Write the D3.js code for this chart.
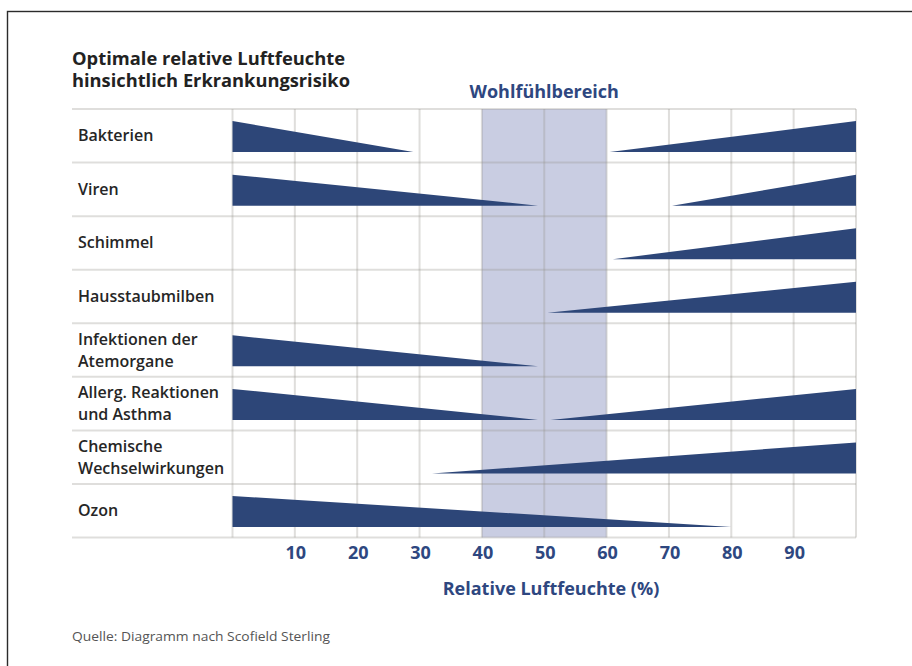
<!DOCTYPE html>
<html>
<head>
<meta charset="utf-8">
<script src="https://cdn.jsdelivr.net/npm/d3@7/dist/d3.min.js"></script>
<style>
  html, body { margin: 0; padding: 0; background: #fff; }
  svg { display: block; }
  text { font-family: "Open Sans", "Noto Sans", sans-serif; }
</style>
</head>
<body>
<svg id="chart" width="912" height="666"></svg>
<script>
// Row labels (multi-line labels are split on "|")
const categories = [
  "Bakterien",
  "Viren",
  "Schimmel",
  "Hausstaubmilben",
  "Infektionen der|Atemorgane",
  "Allerg. Reaktionen|und Asthma",
  "Chemische|Wechselwirkungen",
  "Ozon"
];

// Dryness risk: full at 0 % humidity, falling to zero at this humidity (null = none)
const dryRiskEnd = [29, 49, null, null, 49, 49, null, 80];

// Moisture risk: zero at this humidity, rising to full at 100 % (null = none)
const wetRiskStart = [60.5, 70.5, 61, 50.5, null, 51, 32, null];

// Comfort range of relative humidity
const comfortZone = [40, 60];

// Axis ticks
const gridTicks = [0, 10, 20, 30, 40, 50, 60, 70, 80, 90, 100];
const tickLabels = [10, 20, 30, 40, 50, 60, 70, 80, 90];

const titleLines = ["Optimale relative Luftfeuchte", "hinsichtlich Erkrankungsrisiko"];

const svg = d3.select("#chart");
const navy = "#2d4678";
const labelBlue = "#2e4780";

// frame
svg.append("rect")
  .attr("x", 7.5).attr("y", 11.5)
  .attr("width", 1000).attr("height", 1000)
  .attr("fill", "none").attr("stroke", "#2b2b2b").attr("stroke-width", 1.4);

// title, one text element per line
svg.selectAll("text.title").data(titleLines).join("text")
  .attr("class", "title")
  .attr("x", 72).attr("y", (d, i) => 65 + i * 22)
  .attr("fill", "#222").attr("font-size", 18).attr("font-weight", 700)
  .attr("textLength", (d, i) => i === 0 ? 273 : 278)
  .attr("lengthAdjust", "spacingAndGlyphs")
  .text(d => d);

// scales
const x = d3.scaleLinear().domain([0, 100]).range([232.5, 856]);
const y = d3.scaleBand().domain(categories).range([109, 537.5]);
const risk = d3.scaleLinear().domain([0, 1]).range([y.bandwidth() - 10.5, y.bandwidth() - 41.5]);

// comfort band
svg.append("rect")
  .attr("x", x(comfortZone[0])).attr("y", y.range()[0])
  .attr("width", x(comfortZone[1]) - x(comfortZone[0]))
  .attr("height", y.range()[1] - y.range()[0])
  .attr("fill", "#c9cde2");

svg.append("text")
  .attr("x", x((comfortZone[0] + comfortZone[1]) / 2)).attr("y", 98)
  .attr("text-anchor", "middle")
  .attr("fill", labelBlue).attr("font-size", 18).attr("font-weight", 700)
  .text("Wohlfühlbereich");

// grid
const grid = svg.append("g")
  .attr("stroke", "rgba(150,145,138,0.3)").attr("stroke-width", 2);
grid.selectAll("line.v").data(gridTicks).join("line")
  .attr("class", "v")
  .attr("x1", d => x(d)).attr("x2", d => x(d))
  .attr("y1", y.range()[0]).attr("y2", y.range()[1]);
const rowEdges = categories.map(c => y(c)).concat([y.range()[1]]);
grid.selectAll("line.h").data(rowEdges).join("line")
  .attr("class", "h")
  .attr("x1", 72).attr("x2", x(100))
  .attr("y1", d => d).attr("y2", d => d);

// risk wedges
const area = d3.area().x(d => x(d[0])).y0(risk(0)).y1(d => risk(d[1]));
const rows = svg.append("g").selectAll("g").data(categories).join("g")
  .attr("transform", c => `translate(0,${y(c)})`);

rows.each(function (c, i) {
  const g = d3.select(this);
  if (dryRiskEnd[i] != null) {
    g.append("path").attr("fill", navy)
      .attr("d", area([[0, 1], [dryRiskEnd[i], 0]]));
  }
  if (wetRiskStart[i] != null) {
    g.append("path").attr("fill", navy)
      .attr("d", area([[wetRiskStart[i], 0], [100, 1]]));
  }
});

// row labels
rows.each(function (c) {
  const lines = c.split("|");
  const mid = y.bandwidth() / 2;
  const first = lines.length === 1 ? mid + 5.5 : mid - 5.5;
  lines.forEach((l, k) => {
    d3.select(this).append("text")
      .attr("x", 78).attr("y", first + k * 22)
      .attr("fill", "#262626").attr("font-size", 16).attr("font-weight", 600)
      .text(l);
  });
});

// x axis tick labels
svg.append("g").selectAll("text").data(tickLabels).join("text")
  .attr("x", d => x(d) + 1).attr("y", 559)
  .attr("text-anchor", "middle")
  .attr("fill", labelBlue).attr("font-size", 18).attr("font-weight", 700)
  .text(d => d);

svg.append("text")
  .attr("x", 551).attr("y", 595)
  .attr("text-anchor", "middle")
  .attr("fill", labelBlue).attr("font-size", 18).attr("font-weight", 700)
  .text("Relative Luftfeuchte (%)");

// source note
svg.append("text")
  .attr("x", 72).attr("y", 641)
  .attr("fill", "#555").attr("font-size", 13)
  .attr("textLength", 258).attr("lengthAdjust", "spacingAndGlyphs")
  .text("Quelle: Diagramm nach Scofield Sterling");
</script>
</body>
</html>
